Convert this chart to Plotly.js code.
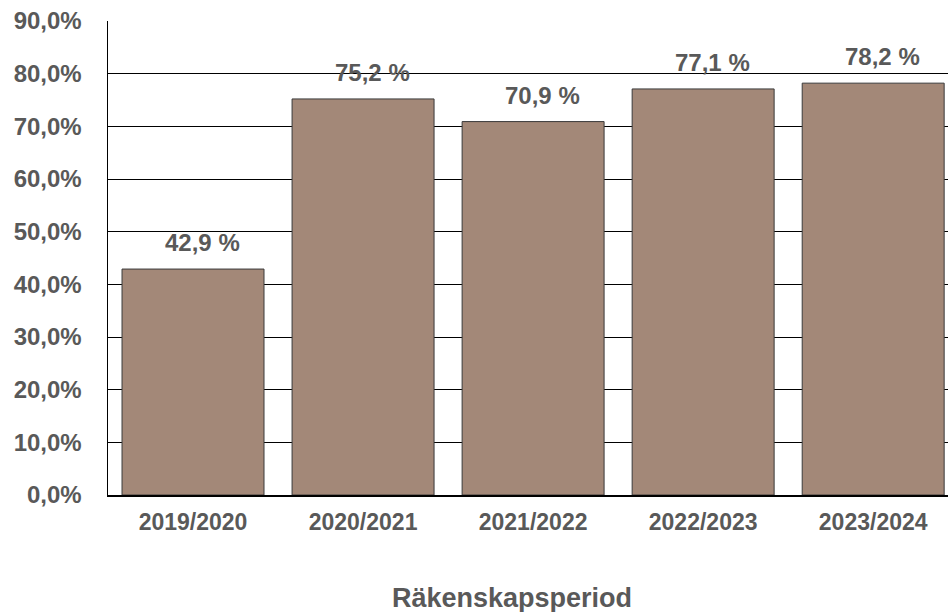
<!DOCTYPE html>
<html><head><meta charset="utf-8">
<script src="https://cdn.plot.ly/plotly-3.0.1.min.js"></script>
<style>html,body{margin:0;padding:0;overflow:hidden;background:#fff}</style>
</head><body><div id="chart" style="width:948px;height:612px"></div>
<script>
const categories = ["2019/2020","2020/2021","2021/2022","2022/2023","2023/2024"];
const values = [42.9, 75.2, 70.9, 77.1, 78.2];
const yTicks = [0,10,20,30,40,50,60,70,80,90];
const xTitle = 'Räkenskapsperiod';

const fmt = v => v.toFixed(1).replace('.', ',') + ' %';
const textColor = '#595959';
const fam = 'Liberation Sans, Arial, sans-serif';

const trace = {
  type: 'bar', x: categories, y: values,
  marker: {color: '#A38878', line: {color: '#3a3a3a', width: 1}},
  hoverinfo: 'skip'
};
const annotations = categories.map((c,i) => ({
  x: c, y: values[i], xref: 'x', yref: 'y', text: fmt(values[i]),
  showarrow: false, yanchor: 'bottom', yshift: 11, xshift: 9,
  font: {family: fam, size: 24, color: textColor, weight: 'bold'}
}));
annotations.push({
  x: 0.481, y: 0, xref: 'paper', yref: 'paper', yshift: -103,
  xanchor: 'center', yanchor: 'middle', showarrow: false, text: xTitle,
  font: {family: fam, size: 27, color: textColor, weight: 'bold'}
});
const layout = {
  width: 948, height: 612,
  margin: {l: 108, r: 0, t: 21, b: 117},
  paper_bgcolor: '#fff', plot_bgcolor: '#fff',
  bargap: 0.165,
  showlegend: false,
  xaxis: {
    type: 'category', range: [-0.5, 4.44], showgrid: false,
    showline: true, linecolor: '#000', linewidth: 1.5, ticks: '',
    tickfont: {family: fam, size: 23, color: textColor, weight: 'bold'},
    ticklabelstandoff: 6
  },
  yaxis: {
    range: [0, 90], tickvals: yTicks, ticktext: yTicks.map(v => v.toFixed(1).replace('.', ',') + '%'),
    showgrid: true, gridcolor: '#000', gridwidth: 1,
    showline: true, linecolor: '#000', linewidth: 1.5, ticks: '',
    zeroline: false,
    tickfont: {family: fam, size: 24, color: textColor, weight: 'bold'},
    ticklabelstandoff: 20
  },
  annotations: annotations
};
Plotly.newPlot('chart', [trace], layout, {displayModeBar: false, staticPlot: true});
</script></body></html>
